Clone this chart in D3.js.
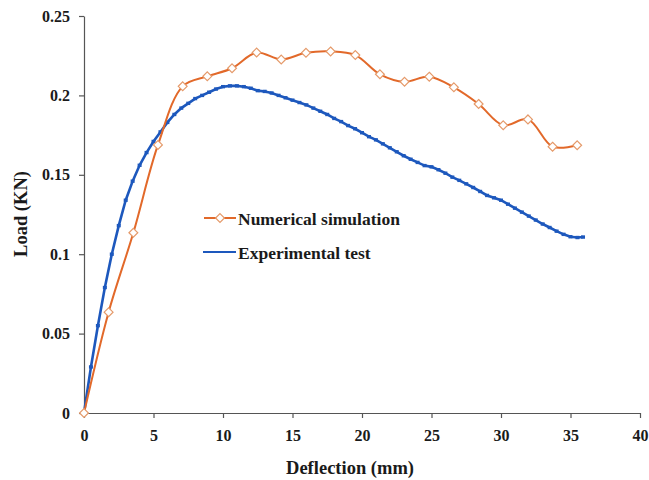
<!DOCTYPE html>
<html>
<head>
<meta charset="utf-8">
<script src="https://cdn.jsdelivr.net/npm/d3@7"></script>
<style>
  html, body { margin: 0; padding: 0; background: #fff; }
  svg { display: block; }
  text { font-family: "Liberation Serif", "Times New Roman", serif; font-weight: bold; fill: #1a1a1a; }
</style>
</head>
<body>
<svg id="chart" width="649" height="480"></svg>
<script>
// ---- data ----
const numX = [0, 1.77, 3.55, 5.32, 7.10, 8.87, 10.65, 12.42, 14.19, 15.97, 17.74, 19.52, 21.29, 23.06, 24.84, 26.61, 28.39, 30.16, 31.94, 33.71, 35.48];
const numY = [0, 0.0635, 0.1135, 0.1688, 0.2057, 0.2120, 0.2171, 0.2270, 0.2226, 0.2268, 0.2277, 0.2254, 0.2133, 0.2086, 0.2118, 0.2051, 0.1946, 0.1812, 0.1849, 0.1677, 0.1686];

const expX = [0, 0.5, 1, 1.5, 2, 2.5, 3, 3.5, 4, 4.5, 5, 5.5, 6, 6.5, 7, 7.5, 8, 8.5, 9, 9.5, 10, 10.5, 11, 11.5, 12, 12.5, 13, 13.5, 14, 14.5, 15, 15.5, 16, 16.5, 17, 17.5, 18, 18.5, 19, 19.5, 20, 20.5, 21, 21.5, 22, 22.5, 23, 23.5, 24, 24.5, 25, 25.5, 26, 26.5, 27, 27.5, 28, 28.5, 29, 29.5, 30, 30.5, 31, 31.5, 32, 32.5, 33, 33.5, 34, 34.5, 35, 35.5, 35.9];
const expY = [0, 0.029, 0.055, 0.079, 0.100, 0.118, 0.134, 0.146, 0.156, 0.164, 0.171, 0.177, 0.183, 0.188, 0.192, 0.195, 0.198, 0.200, 0.202, 0.204, 0.2055, 0.206, 0.206, 0.2055, 0.2045, 0.203, 0.2025, 0.2015, 0.200, 0.1985, 0.197, 0.1955, 0.194, 0.192, 0.190, 0.188, 0.1855, 0.1835, 0.181, 0.179, 0.1765, 0.174, 0.172, 0.1695, 0.167, 0.1645, 0.162, 0.1598, 0.1578, 0.1558, 0.155, 0.1532, 0.151, 0.1485, 0.1465, 0.1443, 0.142, 0.1395, 0.137, 0.1355, 0.134, 0.1315, 0.129, 0.1265, 0.124, 0.1215, 0.119, 0.1168, 0.1145, 0.1125, 0.111, 0.1105, 0.1108];

const xTicks = [0, 5, 10, 15, 20, 25, 30, 35, 40];
const yTicks = [0, 0.05, 0.1, 0.15, 0.2, 0.25];
const yTickLabels = ["0", "0.05", "0.1", "0.15", "0.2", "0.25"];
const seriesNames = ["Numerical simulation", "Experimental test"];
const xTitle = "Deflection (mm)";
const yTitle = "Load (KN)";

// ---- drawing ----
const svg = d3.select("#chart");
const x = d3.scaleLinear().domain([0, 40]).range([84, 640]);
const y = d3.scaleLinear().domain([0, 0.25]).range([413, 16]);

const orange = "#E2692A";
const blue = "#1D58BD";
const axisColor = "#555";

// axes
const xAxis = svg.append("g").attr("transform", `translate(0,${y(0)})`)
  .call(d3.axisBottom(x).tickValues(xTicks).tickSize(5).tickSizeOuter(0).tickPadding(12).tickFormat(d3.format("d")));
const yAxis = svg.append("g").attr("transform", `translate(${x(0)},0)`)
  .call(d3.axisLeft(y).tickValues(yTicks).tickSize(5).tickSizeOuter(0).tickPadding(9).tickFormat((d, i) => yTickLabels[i]));
[xAxis, yAxis].forEach(g => {
  g.select(".domain").attr("stroke", axisColor).attr("stroke-width", 1.2);
  g.selectAll(".tick line").attr("stroke", axisColor).attr("stroke-width", 1.2);
  g.selectAll(".tick text").attr("font-family", "Liberation Serif, serif").attr("font-weight", "bold")
    .attr("font-size", 16).attr("fill", "#1a1a1a");
});

// axis titles
svg.append("text").attr("x", 350).attr("y", 474).attr("text-anchor", "middle")
  .attr("font-size", 18.5).text(xTitle);
svg.append("text").attr("transform", `translate(27,214) rotate(-90)`).attr("text-anchor", "middle")
  .attr("font-size", 18.5).text(yTitle);

// experimental (blue)
const expData = expX.map((v, i) => [v, expY[i]]);
svg.append("path").datum(expData)
  .attr("fill", "none").attr("stroke", blue).attr("stroke-width", 2.6)
  .attr("d", d3.line().x(d => x(d[0])).y(d => y(d[1])));
svg.append("g").selectAll("rect").data(expData.slice(1)).join("rect")
  .attr("x", d => x(d[0]) - 2).attr("y", d => y(d[1]) - 1.7)
  .attr("width", 4).attr("height", 3.4).attr("fill", blue);

// numerical (orange)
const numData = numX.map((v, i) => [v, numY[i]]);
svg.append("path").datum(numData)
  .attr("fill", "none").attr("stroke", orange).attr("stroke-width", 2)
  .attr("d", d3.line().x(d => x(d[0])).y(d => y(d[1])).curve(d3.curveCatmullRom.alpha(0.5)));
const diamond = d3.symbol().type(d3.symbolDiamond2).size(50);
svg.append("g").selectAll("path").data(numData).join("path")
  .attr("transform", d => `translate(${x(d[0])},${y(d[1])})`)
  .attr("d", diamond).attr("fill", "#fff").attr("stroke", "#E59A6A").attr("stroke-width", 1.2);

// legend
const lg = svg.append("g");
lg.append("line").attr("x1", 204).attr("x2", 236).attr("y1", 218).attr("y2", 218)
  .attr("stroke", orange).attr("stroke-width", 2);
lg.append("path").attr("transform", "translate(220,218)").attr("d", diamond)
  .attr("fill", "#fff").attr("stroke", "#E59A6A").attr("stroke-width", 1.2);
lg.append("text").attr("x", 238).attr("y", 225).attr("font-size", 17.5).text(seriesNames[0]);
lg.append("line").attr("x1", 203).attr("x2", 236).attr("y1", 252).attr("y2", 252)
  .attr("stroke", blue).attr("stroke-width", 2);
lg.append("text").attr("x", 238).attr("y", 259).attr("font-size", 17.5).text(seriesNames[1]);
</script>
</body>
</html>
